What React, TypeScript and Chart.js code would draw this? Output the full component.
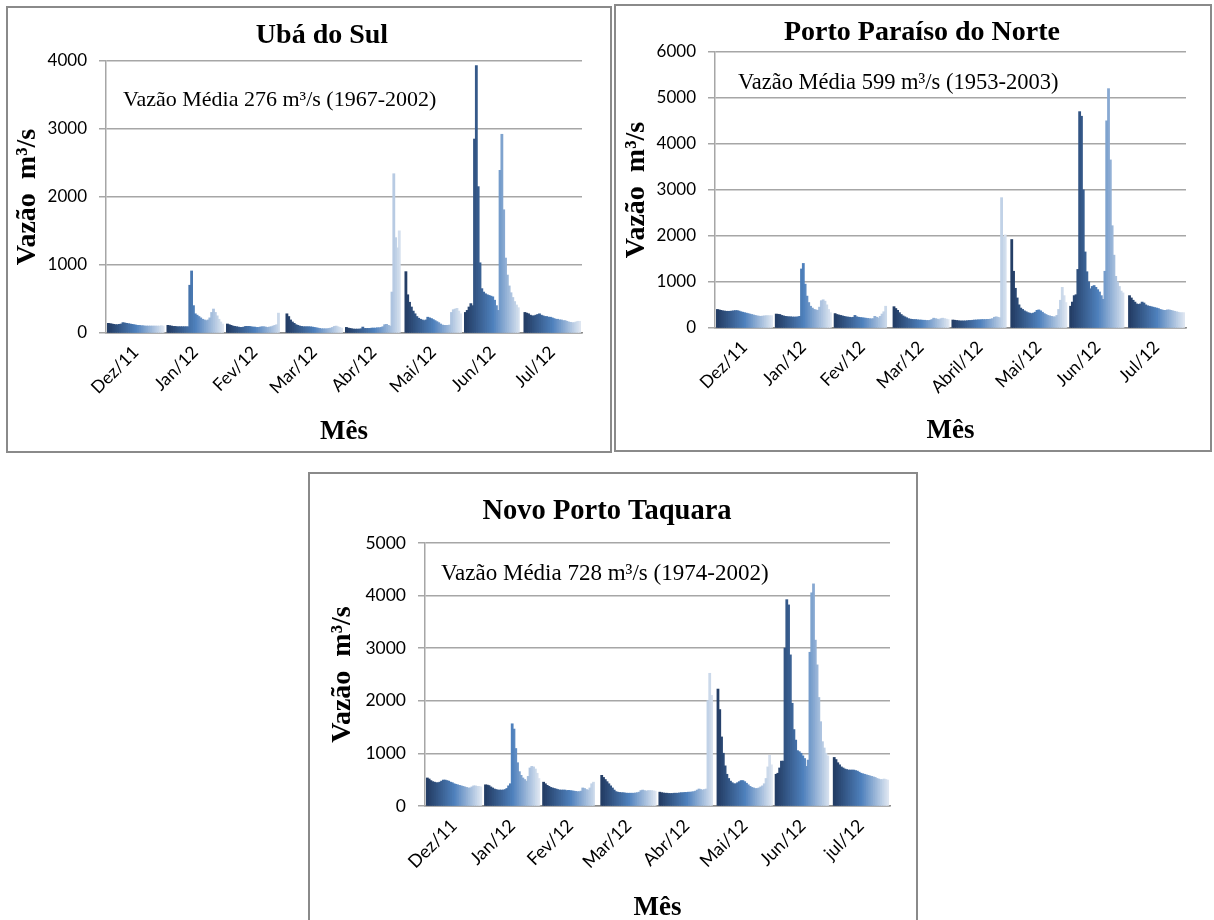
import React, { useEffect, useRef } from 'react';
import { Chart, registerables } from 'chart.js';

Chart.register(...registerables);

// ---------- Ubá do Sul (daily flow, m³/s; one array per month, index = day-1) ----------
const ubaLabels = ['Dez/11', 'Jan/12', 'Fev/12', 'Mar/12', 'Abr/12', 'Mai/12', 'Jun/12', 'Jul/12'];
const ubaDez = [140, 135, 130, 125, 120, 120, 125, 130, 150, 145, 140, 135, 130, 125, 120, 115, 110, 110, 105, 105, 100, 100, 100, 100, 100, 100, 100, 100, 100, 105, 100];
const ubaJan = [110, 105, 100, 95, 95, 90, 90, 90, 90, 90, 90, 90, 700, 910, 400, 280, 260, 240, 220, 200, 190, 180, 190, 220, 300, 350, 300, 250, 200, 160, 130];
const ubaFev = [130, 120, 110, 100, 95, 90, 85, 80, 80, 85, 95, 95, 95, 90, 85, 85, 80, 80, 85, 90, 90, 85, 80, 85, 90, 100, 110, 120, 290, null, null];
const ubaMar = [280, 240, 190, 160, 140, 120, 110, 100, 95, 90, 90, 90, 90, 88, 85, 80, 75, 70, 65, 60, 60, 60, 60, 65, 70, 80, 95, 100, 90, 80, 70];
const ubaAbr = [80, 70, 65, 60, 55, 55, 55, 55, 60, 85, 65, 65, 65, 65, 70, 70, 70, 75, 75, 80, 90, 120, 125, 110, 100, 600, 2340, 1400, 1250, 1500, null];
const ubaMai = [900, 560, 450, 380, 320, 280, 240, 215, 200, 190, 180, 190, 230, 220, 210, 195, 180, 165, 150, 130, 115, 110, 110, 110, 115, 300, 340, 350, 360, 320, 280];
const ubaJun = [300, 330, 380, 430, 400, 2850, 3930, 2150, 1030, 650, 600, 575, 560, 550, 540, 530, 480, 400, 330, 2390, 2920, 1810, 1100, 850, 690, 590, 520, 460, 410, 370, null];
const ubaJul = [300, 290, 280, 260, 250, 250, 260, 270, 280, 260, 250, 240, 240, 230, 230, 220, 210, 200, 200, 190, 190, 180, 180, 170, 160, 155, 150, 150, 160, 170, 170];

// ---------- Porto Paraíso do Norte ----------
const ppLabels = ['Dez/11', 'Jan/12', 'Fev/12', 'Mar/12', 'Abril/12', 'Mai/12', 'Jun/12', 'Jul/12'];
const ppDez = [400, 390, 380, 370, 365, 360, 360, 360, 365, 370, 375, 375, 365, 350, 340, 330, 320, 310, 300, 290, 280, 270, 260, 255, 250, 255, 260, 265, 265, 265, 265];
const ppJan = [300, 295, 290, 270, 260, 250, 245, 240, 240, 235, 235, 235, 240, 250, 1280, 1400, 950, 690, 550, 470, 430, 400, 390, 380, 450, 590, 610, 580, 500, 400, 330];
const ppFev = [310, 290, 280, 270, 260, 250, 240, 235, 230, 225, 230, 270, 240, 230, 225, 220, 215, 210, 205, 200, 195, 200, 250, 230, 215, 250, 300, 350, 470, null, null];
const ppMar = [460, 420, 380, 330, 290, 260, 240, 220, 200, 190, 185, 180, 180, 175, 170, 170, 165, 165, 160, 160, 165, 180, 210, 200, 190, 180, 200, 210, 200, 190, 180];
const ppAbr = [170, 165, 160, 155, 150, 150, 150, 150, 155, 160, 160, 165, 170, 170, 175, 175, 180, 180, 180, 185, 185, 190, 200, 230, 240, 230, 220, 2830, 1970, 2020, null];
const ppMai = [1920, 1230, 860, 650, 500, 430, 400, 370, 350, 330, 320, 310, 320, 340, 380, 390, 370, 340, 310, 290, 270, 260, 250, 240, 240, 270, 400, 600, 880, 700, 550];
const ppJun = [470, 560, 700, 720, 1270, 4700, 4600, 3000, 1650, 1220, 1000, 850, 900, 920, 880, 830, 780, 700, 620, 1230, 4500, 5200, 3650, 2220, 1580, 1120, 1000, 900, 800, 760, null];
const ppJul = [700, 650, 600, 560, 520, 510, 520, 560, 540, 500, 480, 470, 460, 450, 440, 430, 420, 400, 390, 380, 380, 390, 390, 380, 370, 360, 350, 340, 330, 330, 330];

// ---------- Novo Porto Taquara ----------
const nptLabels = ['Dez/11', 'Jan/12', 'Fev/12', 'Mar/12', 'Abr/12', 'Mai/12', 'Jun/12', 'jul/12'];
const nptDez = [530, 510, 480, 460, 450, 440, 440, 450, 470, 490, 490, 480, 470, 450, 440, 420, 410, 400, 390, 380, 370, 360, 350, 340, 340, 360, 380, 380, 370, 370, 360];
const nptJan = [400, 395, 385, 360, 340, 320, 310, 300, 300, 300, 300, 310, 330, 380, 420, 1560, 1460, 1090, 820, 650, 580, 530, 500, 470, 560, 720, 750, 740, 700, 620, 520];
const nptFev = [450, 420, 390, 370, 350, 340, 330, 320, 310, 300, 300, 300, 300, 290, 295, 290, 285, 280, 275, 270, 270, 280, 340, 330, 310, 300, 340, 420, 450, null, null];
const nptMar = [580, 540, 500, 460, 420, 380, 340, 300, 270, 260, 255, 250, 250, 245, 240, 240, 240, 240, 240, 245, 250, 260, 290, 300, 290, 280, 290, 290, 290, 285, 280];
const nptAbr = [260, 250, 245, 240, 240, 235, 235, 235, 240, 240, 240, 245, 250, 250, 255, 255, 260, 260, 265, 270, 280, 300, 320, 310, 300, 310, 320, 2000, 2520, 2100, null];
const nptMai = [2220, 1830, 1310, 1000, 760, 600, 520, 470, 440, 420, 420, 440, 460, 480, 480, 460, 430, 400, 370, 350, 340, 330, 330, 340, 360, 380, 420, 520, 740, 960, 780];
const nptJun = [600, 620, 720, 850, 850, 3000, 3920, 3820, 2870, 1950, 1450, 1250, 1050, 1030, 1000, 950, 900, 750, 870, 2920, 4050, 4220, 3150, 2680, 2060, 1600, 1220, 1100, 1000, 950, null];
const nptJul = [920, 880, 820, 780, 740, 720, 700, 690, 680, 680, 680, 680, 670, 660, 640, 620, 610, 600, 590, 580, 570, 560, 550, 540, 520, 510, 500, 500, 510, 500, 490];

const DAYS = 31;

// colour of each day's series: dark navy -> office blue -> pale blue
function dayColor(i: number): string {
  const stops = [
    [36, 62, 102],
    [79, 129, 189],
    [222, 230, 241],
  ];
  const t = i / (DAYS - 1);
  const seg = t < 0.5 ? 0 : 1;
  const f = t < 0.5 ? t / 0.5 : (t - 0.5) / 0.5;
  const a = stops[seg];
  const b = stops[seg + 1];
  const c = a.map((v, k) => Math.round(v + (b[k] - v) * f));
  return `rgb(${c[0]},${c[1]},${c[2]})`;
}

const SERIF = '"Liberation Serif", "Times New Roman", serif';
const SANS = 'Lato, "Open Sans", sans-serif';

type PanelCfg = {
  title: string;
  note: string;
  labels: string[];
  months: (number | null)[][];
  max: number;
  box: { left: number; top: number; width: number; height: number };
  yAxisW: number;
  xAxisH: number;
  plotTop: number;
  padRight: number;
  yTitlePad: number;
  xTitlePad: number;
  titlePos: [number, number];
  titleSize: number;
  notePos: [number, number];
  noteSize: number;
  tickSize: number;
};

function Panel({ cfg }: { cfg: PanelCfg }) {
  const ref = useRef<HTMLCanvasElement>(null);
  const cw = cfg.box.width - 4;
  const ch = cfg.box.height - 4;

  useEffect(() => {
    if (!ref.current) return;
    const datasets = Array.from({ length: DAYS }, (_, d) => ({
      label: `Dia ${d + 1}`,
      data: cfg.months.map((m) => m[d]),
      backgroundColor: dayColor(d),
      borderWidth: 0,
      categoryPercentage: 0.95,
      barPercentage: 1,
      inflateAmount: 0.5,
    }));

    const textPlugin = {
      id: 'panelText',
      afterDraw(chart: any) {
        const { ctx, chartArea } = chart;
        ctx.save();
        ctx.fillStyle = '#000';
        ctx.font = `bold ${cfg.titleSize}px ${SERIF}`;
        ctx.textAlign = 'center';
        ctx.textBaseline = 'middle';
        ctx.fillText(cfg.title, cfg.titlePos[0], cfg.titlePos[1]);
        ctx.font = `${cfg.noteSize}px ${SERIF}`;
        ctx.textAlign = 'left';
        ctx.fillText(cfg.note, chartArea.left + cfg.notePos[0], chartArea.top + cfg.notePos[1]);
        ctx.restore();
      },
    };

    const chart = new Chart(ref.current, {
      type: 'bar',
      data: { labels: cfg.labels, datasets },
      options: {
        animation: false,
        responsive: false,
        devicePixelRatio: 1,
        layout: { padding: { top: cfg.plotTop, right: cfg.padRight, left: 0, bottom: 0 } },
        plugins: {
          legend: { display: false },
          tooltip: { enabled: false },
          title: { display: false },
        },
        scales: {
          x: {
            grid: { display: false, drawTicks: false },
            border: { display: true, color: '#8c8c8c', width: 1.5 },
            ticks: {
              maxRotation: 45,
              minRotation: 45,
              autoSkip: false,
              padding: 9,
              color: '#000',
              font: { family: SANS, size: cfg.tickSize + 0.5 },
            },
            title: {
              display: true,
              text: 'Mês',
              color: '#000',
              font: { family: SERIF, size: 27, weight: 'bold' },
              padding: { top: 0, bottom: cfg.xTitlePad },
            },
            afterFit: (s: any) => {
              s.height = cfg.xAxisH;
            },
          },
          y: {
            min: 0,
            max: cfg.max,
            ticks: {
              stepSize: 1000,
              padding: 12,
              color: '#000',
              font: { family: SANS, size: cfg.tickSize },
              callback: (v: any) => String(v),
            },
            grid: { color: '#a6a6a6', lineWidth: 1.5, drawTicks: true, tickLength: 7 },
            border: { display: true, color: '#a6a6a6', width: 1.5 },
            title: {
              display: true,
              text: 'Vazão  m³/s',
              color: '#000',
              font: { family: SERIF, size: 28, weight: 'bold' },
              padding: { top: cfg.yTitlePad, bottom: 0 },
            },
            afterFit: (s: any) => {
              s.width = cfg.yAxisW;
            },
          },
        },
      } as any,
      plugins: [textPlugin],
    });
    return () => chart.destroy();
  }, [cfg]);

  return (
    <div
      style={{
        position: 'absolute',
        left: cfg.box.left,
        top: cfg.box.top,
        width: cfg.box.width,
        height: cfg.box.height,
        border: '2px solid #8a8a8a',
        boxSizing: 'border-box',
        background: '#fff',
      }}
    >
      <canvas ref={ref} width={cw} height={ch} style={{ display: 'block', width: cw, height: ch }} />
    </div>
  );
}

const panels: PanelCfg[] = [
  {
    title: 'Ubá do Sul',
    note: 'Vazão Média 276 m³/s (1967-2002)',
    labels: ubaLabels,
    months: [ubaDez, ubaJan, ubaFev, ubaMar, ubaAbr, ubaMai, ubaJun, ubaJul],
    max: 4000,
    box: { left: 6, top: 6, width: 606, height: 447 },
    yAxisW: 98,
    xAxisH: 118,
    plotTop: 53,
    padRight: 28,
    yTitlePad: 3,
    xTitlePad: 3,
    titlePos: [314, 28],
    titleSize: 28,
    notePos: [17, 39],
    noteSize: 22,
    tickSize: 17,
  },
  {
    title: 'Porto Paraíso do Norte',
    note: 'Vazão Média 599 m³/s (1953-2003)',
    labels: ppLabels,
    months: [ppDez, ppJan, ppFev, ppMar, ppAbr, ppMai, ppJun, ppJul],
    max: 6000,
    box: { left: 614, top: 4, width: 598, height: 448 },
    yAxisW: 99,
    xAxisH: 122,
    plotTop: 46,
    padRight: 24,
    yTitlePad: 4,
    xTitlePad: 3,
    titlePos: [306, 27],
    titleSize: 28,
    notePos: [23, 31],
    noteSize: 22.5,
    tickSize: 17,
  },
  {
    title: 'Novo Porto Taquara',
    note: 'Vazão Média 728 m³/s (1974-2002)',
    labels: nptLabels,
    months: [nptDez, nptJan, nptFev, nptMar, nptAbr, nptMai, nptJun, nptJul],
    max: 5000,
    box: { left: 308, top: 472, width: 610, height: 460 },
    yAxisW: 115,
    xAxisH: 124,
    plotTop: 69,
    padRight: 26,
    yTitlePad: 16,
    xTitlePad: 6,
    titlePos: [297, 38],
    titleSize: 28.5,
    notePos: [16, 31],
    noteSize: 23,
    tickSize: 17.5,
  },
];

export default function App() {
  return (
    <div
      style={{
        position: 'fixed',
        left: 0,
        top: 0,
        width: 1214,
        height: 920,
        overflow: 'hidden',
        background: '#fff',
      }}
    >
      {panels.map((p) => (
        <Panel key={p.title} cfg={p} />
      ))}
    </div>
  );
}
